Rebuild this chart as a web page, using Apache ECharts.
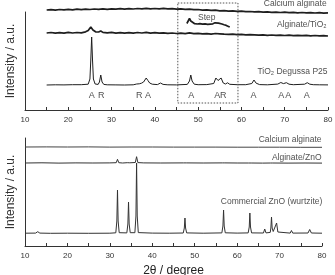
<!DOCTYPE html>
<html><head><meta charset="utf-8">
<script src="https://cdn.jsdelivr.net/npm/echarts@6/dist/echarts.min.js"></script>
<style>html,body{margin:0;padding:0;background:#fff}#c{width:335px;height:275px}</style>
</head><body><div id="c"></div>
<script>
// ---------- X axis ticks ----------
const xTicks = [10, 20, 30, 40, 50, 60, 70, 80];

// ---------- Top panel (TiO2) series: [2θ, intensity a.u.] ----------
const topCalciumAlginate = [[15,100.0],[16,100.4],[17,99.8],[18,100.5],[19,100.1],[20,100.6],[21,100.2],[22,100.8],[23,100.4],[24,100.9],[25,100.5],[26,101.0],[27,100.6],[28,101.1],[29,100.7],[30,101.2],[31,100.8],[32,101.3],[33,100.9],[34,101.4],[35,101.0],[36,101.5],[37,101.1],[38,101.6],[39,101.2],[40,101.5],[41,101.1],[42,101.6],[43,101.2],[44,101.4],[45,100.9],[46,101.2],[47,100.6],[48,100.9],[49,100.3],[50,100.5],[51,99.9],[52,100.1],[53,99.6],[54,99.8],[55,99.2],[56,99.4],[57,98.9],[58,99.1],[59,98.6],[60,98.8],[61,98.3],[62,98.5],[63,98.1],[64,98.3],[65,97.9],[66,98.1],[67,97.7],[68,97.9],[69,97.5],[70,97.8],[71,97.4],[72,97.6],[73,97.2],[74,97.5],[75,97.1],[76,97.4],[77,97.0],[78,97.3],[79,96.9],[80,97.2]];

const topAlginateTiO2 = [[15,77.0],[16,77.5],[17,76.8],[18,77.4],[19,76.9],[20,77.6],[21,77.0],[22,77.5],[23,77.2],[24,78.2],[24.6,79.5],[25.2,83.0],[25.7,80.0],[26.3,78.2],[27,78.0],[27.5,79.0],[28,77.6],[29,77.2],[30,77.6],[31,76.9],[32,77.4],[33,76.8],[34,77.3],[35,76.9],[36,77.5],[37,77.0],[38,77.6],[39,76.8],[40,77.3],[41,76.8],[42,77.2],[43,76.7],[44,77.0],[45,76.5],[46,76.9],[47,76.4],[48,77.2],[49,76.3],[50,76.6],[51,76.1],[52,76.4],[53,75.9],[54,76.5],[55,76.2],[56,75.8],[57,75.6],[58,75.9],[59,75.3],[60,75.6],[61,75.1],[62,75.4],[63,75.2],[64,74.9],[65,75.2],[66,74.7],[67,75.0],[68,74.6],[69,74.9],[70,74.5],[71,74.8],[72,74.4],[73,74.7],[74,74.3],[75,74.6],[76,74.2],[77,74.5],[78,74.1],[79,74.4],[80,74.0]];

const topStep = [[47.4,86.5],[47.7,88.5],[48.0,91.5],[48.3,89.0],[48.7,87.0],[49.2,86.3],[49.8,86.0],[50.4,86.4],[51.0,85.8],[51.6,86.1],[52.2,85.6],[52.8,85.9],[53.4,86.2],[53.9,87.2],[54.3,87.8],[54.7,86.9],[55.1,87.3],[55.5,86.0],[56.0,85.2],[56.5,84.6],[57.0,83.6],[57.3,83.0]];

const topP25 = [[15,25.0],[17,25.2],[19,25.1],[21,25.3],[23,25.3],[24.6,25.8],[25.0,31.0],[25.2,50.0],[25.4,73.0],[25.6,50.0],[25.8,31.0],[26.2,26.0],[26.9,25.6],[27.2,28.0],[27.5,35.0],[27.8,28.0],[28.2,25.6],[29,25.2],[31,25.1],[33,25.0],[35,25.2],[35.8,26.0],[36.1,28.0],[36.4,26.2],[36.9,26.8],[37.4,28.0],[38.0,32.0],[38.4,29.5],[38.8,27.0],[39.4,25.8],[40.6,25.4],[41.3,27.0],[41.9,25.6],[43,25.2],[45,25.1],[47.5,25.6],[48.0,29.0],[48.3,35.0],[48.6,29.0],[49.1,25.8],[50,25.3],[52,25.4],[53.6,26.5],[54.1,32.0],[54.6,29.5],[55.3,32.0],[55.8,27.0],[56.3,26.0],[56.8,27.2],[57.3,25.7],[59,25.3],[61,25.3],[62.4,26.5],[62.9,30.0],[63.4,26.8],[64.2,25.4],[66,25.2],[68.4,25.9],[69.1,27.5],[69.7,26.4],[70.4,27.3],[71.0,25.8],[72,25.3],[74.6,25.8],[75.2,27.3],[75.8,25.8],[76.6,25.3],[78,25.2],[80,25.1]];

const topPeakLetters = [[25.4,'A'],[27.6,'R'],[36.4,'R'],[38.4,'A'],[48.4,'A'],[54.4,'A'],[55.8,'R'],[62.8,'A'],[69.2,'A'],[70.8,'A'],[75.1,'A']];

// ---------- Bottom panel (ZnO) series ----------
const botCalciumAlginate = [[10,99.0],[15,99.1],[20,99.0],[25,99.1],[30,98.9],[35,99.0],[40,99.0],[45,98.9],[50,98.9],[55,98.9],[60,98.8],[65,98.8],[70,98.8],[75,98.7],[80,98.7]];

const botAlginateZnO = [[10,83.0],[14,83.2],[18,82.9],[22,83.1],[26,83.0],[30,83.1],[31.5,83.3],[31.8,86.7],[32.1,83.3],[33,83.0],[34.1,83.3],[34.4,85.3],[34.7,83.2],[36.0,83.5],[36.3,89.3],[36.6,83.4],[38,83.1],[42,83.0],[47.4,83.1],[47.7,83.9],[48.0,83.1],[52,83.0],[56.5,83.1],[56.8,84.6],[57.1,83.1],[60,83.0],[62.7,83.0],[63.0,84.0],[63.3,83.0],[66,82.9],[67.9,83.0],[68.1,83.8],[68.4,83.0],[72,82.9],[76,83.0],[80,82.9]];

const botCommercialZnO = [[10,12.8],[12.5,12.9],[13.0,14.3],[13.5,12.9],[16,12.7],[20,12.8],[25,12.7],[30,12.8],[31.4,13.2],[31.65,25],[31.8,56],[31.95,25],[32.2,13.3],[34.0,13.1],[34.25,22],[34.4,44],[34.55,22],[34.8,13.3],[35.9,13.3],[36.15,30],[36.3,83],[36.45,30],[36.7,13.4],[40,12.9],[44,12.8],[47.3,13.0],[47.55,18],[47.7,28],[47.85,18],[48.1,13.1],[52,12.8],[56.4,13.1],[56.65,20],[56.8,36],[56.95,20],[57.2,13.2],[60,12.9],[62.6,13.1],[62.85,19],[63.0,33],[63.15,19],[63.4,13.1],[66.2,13.0],[66.5,17],[66.8,13.1],[67.8,13.6],[67.95,18],[68.1,29],[68.25,18],[68.5,14.5],[68.95,16],[69.3,23],[69.6,14],[70.0,13.1],[72.5,12.9],[72.8,15.5],[73.1,12.9],[76.7,13.0],[77.1,16.5],[77.5,13.0],[80,12.8]];

// ---------- Chart ----------
const FONT = "'Liberation Sans', Arial, sans-serif";
const INK = '#1e1e1e';
const chart = echarts.init(document.getElementById('c'), null, {renderer: 'canvas'});

function xAxisCfg(grid, withName) {
  return {
    gridIndex: grid, type: 'value', min: 10, max: 80, interval: 10,
    axisLine: {lineStyle: {color: '#333', width: 1}},
    axisTick: {inside: true, length: 3, lineStyle: {color: '#333'}},
    minorTick: {show: true, splitNumber: 2, length: 3, lineStyle: {color: '#333'}},
    splitLine: {show: false},
    axisLabel: {fontSize: 8, color: '#333', fontFamily: FONT, margin: 6,
      formatter: v => xTicks.includes(v) ? String(v) : ''},
    name: withName ? '2\u03b8 / degree' : '',
    nameLocation: 'middle', nameGap: 19,
    nameTextStyle: {fontSize: 12, color: '#222', fontFamily: FONT}
  };
}
function yAxisCfg(grid, max) {
  return {
    gridIndex: grid, type: 'value', min: 0, max: max,
    axisLine: {show: true, lineStyle: {color: '#333', width: 1}},
    axisTick: {show: false}, axisLabel: {show: false}, splitLine: {show: false},
    name: 'Intensity / a.u.', nameLocation: 'middle', nameGap: 8, nameRotate: 90,
    nameTextStyle: {fontSize: 12, color: '#333', fontFamily: FONT}
  };
}
function lineSeries(grid, data, width, color) {
  return {type: 'line', xAxisIndex: grid, yAxisIndex: grid, data: data, showSymbol: false,
    symbol: 'none', clip: false, silent: true,
    lineStyle: {color: color || INK, width: width}};
}
function textSeries(grid, items) {
  return {type: 'scatter', xAxisIndex: grid, yAxisIndex: grid, symbolSize: 1, clip: false, silent: true,
    itemStyle: {color: 'rgba(0,0,0,0)'},
    data: items.map(it => ({value: [it[0], it[1]], name: it[2],
      label: {show: true, formatter: it[2], position: it[3] || 'left', distance: 0,
        fontSize: it[4] || 8.5, color: '#222', fontFamily: FONT}}))};
}

const series = [
  lineSeries(0, topCalciumAlginate, 1.7),
  lineSeries(0, topAlginateTiO2, 1.7),
  lineSeries(0, topStep, 1.7),
  lineSeries(0, topP25, 1),
  // dashed selection box (annotation)
  {type: 'line', xAxisIndex: 0, yAxisIndex: 0, clip: false, silent: true, symbol: 'none',
   data: [[45.3,107],[59.2,107],[59.2,7],[45.3,7],[45.3,107]],
   lineStyle: {color: '#555', width: 1, type: [1.5, 1.5]}},
  textSeries(0, [
    [79.8, 106.5, 'Calcium alginate'],
    [79.8, 85.5, 'Alginate/TiO\u2082'],
    [52.0, 92.0, 'Step', 'inside'],
    [80.0, 38.5, 'TiO\u2082 Degussa P25']
  ]),
  textSeries(0, topPeakLetters.map(p => [p[0], 14.5, p[1], 'inside', 9])),
  lineSeries(1, botCalciumAlginate, 1, '#444'),
  lineSeries(1, botAlginateZnO, 1, '#333'),
  lineSeries(1, botCommercialZnO, 1, '#333'),
  textSeries(1, [
    [80.0, 106.0, 'Calcium alginate'],
    [80.0, 88.5, 'Alginate/ZnO'],
    [80.2, 44.0, 'Commercial ZnO (wurtzite)']
  ])
];

chart.setOption({
  animation: false,
  backgroundColor: '#fff',
  grid: [
    {left: 25, right: 7, top: 12, bottom: 165, containLabel: false, outerBoundsMode: 'none'},
    {left: 25, right: 13, top: 138, bottom: 29, containLabel: false, outerBoundsMode: 'none'}
  ],
  xAxis: [xAxisCfg(0, false), xAxisCfg(1, true)],
  yAxis: [yAxisCfg(0, 98), yAxisCfg(1, 108)],
  series: series
});
</script></body></html>
